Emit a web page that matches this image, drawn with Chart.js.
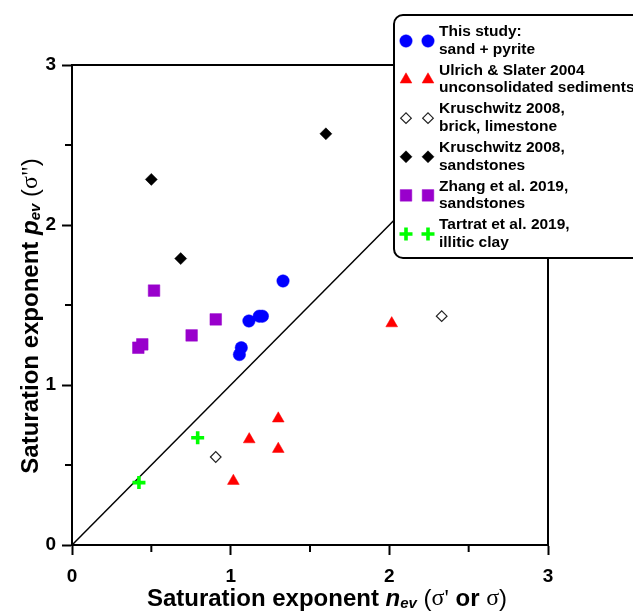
<!DOCTYPE html>
<html>
<head>
<meta charset="utf-8">
<script src="https://cdn.jsdelivr.net/npm/chart.js@4"></script>
<style>
    html, body { margin: 0; padding: 0; background: #fff; }
    #wrap { width: 633px; height: 614px; }
</style>
</head>
<body>
<div id="wrap"><canvas id="chart" width="633" height="614"></canvas></div>
<script>
(function () {
    "use strict";

    // Data: [n_ev, p_ev]
    const thisStudy = [[1.33, 1.65], [1.115, 1.40], [1.18, 1.43], [1.20, 1.43], [1.067, 1.233], [1.055, 1.19]];
    const ulrichSlater = [[1.30, 0.79], [1.117, 0.66], [1.30, 0.60], [1.017, 0.40], [2.015, 1.385]];
    const kruschwitzBrick = [[0.906, 0.55], [2.33, 1.43]];
    const kruschwitzSand = [[0.50, 2.285], [0.685, 1.79], [1.60, 2.57]];
    const zhang = [[0.517, 1.59], [0.906, 1.41], [0.754, 1.31], [0.443, 1.254], [0.418, 1.233]];
    const tartrat = [[0.792, 0.67], [0.422, 0.39]];
    const oneToOne = [[0, 0], [3, 3]];

    const legendLabels = [
        ["This study:", "sand + pyrite"],
        ["Ulrich & Slater 2004", "unconsolidated sediments"],
        ["Kruschwitz 2008,", "brick, limestone"],
        ["Kruschwitz 2008,", "sandstones"],
        ["Zhang et al. 2019,", "sandstones"],
        ["Tartrat et al. 2019,", "illitic clay"],
    ];
    const axisMin = 0;
    const axisMax = 3;
    const tickStep = 0.5;

    const toXY = (arr) => arr.map((p) => ({ x: p[0], y: p[1] }));

    const styles = [
        { pointStyle: "circle", radius: 6.2, backgroundColor: "#0000ff", borderColor: "#0000ff", borderWidth: 0.5 },
        { pointStyle: "triangle", radius: 6.8, backgroundColor: "#ff0000", borderColor: "#ff0000", borderWidth: 0.5 },
        { pointStyle: "rectRot", radius: 5.3, backgroundColor: "#ffffff", borderColor: "#222222", borderWidth: 1.2 },
        { pointStyle: "rectRot", radius: 6, backgroundColor: "#000000", borderColor: "#000000", borderWidth: 0.5 },
        { pointStyle: "rect", radius: 8.2, backgroundColor: "#9900cc", borderColor: "#9900cc", borderWidth: 0.5 },
        { pointStyle: "cross", radius: 6.5, backgroundColor: "#00ff00", borderColor: "#00ff00", borderWidth: 3.6 },
    ];
    const series = [thisStudy, ulrichSlater, kruschwitzBrick, kruschwitzSand, zhang, tartrat];

    const datasets = series.map((s, i) => ({
        label: legendLabels[i].join(" "),
        data: toXY(s),
        pointStyle: styles[i].pointStyle,
        pointRadius: styles[i].radius,
        pointHoverRadius: styles[i].radius,
        pointBackgroundColor: styles[i].backgroundColor,
        pointBorderColor: styles[i].borderColor,
        pointBorderWidth: styles[i].borderWidth,
        showLine: false,
    }));
    datasets.push({
        label: "1:1",
        data: toXY(oneToOne),
        showLine: true,
        borderColor: "#000",
        borderWidth: 1.5,
        pointRadius: 0,
        order: 10,
    });

    // draw a run of text pieces with different fonts, centred at (cx, cy)
    function drawRich(ctx, pieces, cx, cy) {
        let total = 0;
        pieces.forEach((p) => {
            ctx.font = p.font;
            p.w = ctx.measureText(p.text).width;
            total += p.w;
        });
        let x = cx - total / 2;
        ctx.textBaseline = "middle";
        ctx.textAlign = "left";
        ctx.fillStyle = "#000";
        pieces.forEach((p) => {
            ctx.font = p.font;
            ctx.fillText(p.text, x, cy + (p.dy || 0));
            x += p.w;
        });
    }

    const B = "bold 24px 'Liberation Sans', Arial, sans-serif";
    const BI = "italic bold 24px 'Liberation Sans', Arial, sans-serif";
    const SUB = "italic bold 15px 'Liberation Sans', Arial, sans-serif";
    const R = "24px 'Liberation Sans', Arial, sans-serif";
    const SIG = "24px 'Liberation Serif', 'Times New Roman', serif";

    const decorations = {
        id: "decorations",
        afterDraw(chart) {
            const ctx = chart.ctx;
            const a = chart.chartArea;
            const xs = chart.scales.x;
            const ys = chart.scales.y;
            ctx.save();

            // top and right frame
            ctx.strokeStyle = "#000";
            ctx.lineWidth = 2;
            ctx.beginPath();
            ctx.moveTo(a.left - 1, a.top);
            ctx.lineTo(a.right, a.top);
            ctx.lineTo(a.right, a.bottom + 1);
            ctx.stroke();

            // minor ticks (shorter than the major ones)
            ctx.lineWidth = 2;
            xs.ticks.filter((t) => !Number.isInteger(t.value)).forEach((t) => {
                const px = xs.getPixelForValue(t.value);
                ctx.beginPath();
                ctx.moveTo(px, a.bottom);
                ctx.lineTo(px, a.bottom + 7);
                ctx.stroke();
            });
            ys.ticks.filter((t) => !Number.isInteger(t.value)).forEach((t) => {
                const py = ys.getPixelForValue(t.value);
                ctx.beginPath();
                ctx.moveTo(a.left, py);
                ctx.lineTo(a.left - 7, py);
                ctx.stroke();
            });

            // axis titles
            drawRich(ctx, [
                { text: "Saturation exponent ", font: B },
                { text: "n", font: BI },
                { text: "ev", font: SUB, dy: 5 },
                { text: " (", font: R },
                { text: "\u03c3'", font: SIG },
                { text: " or ", font: B },
                { text: "\u03c3", font: SIG },
                { text: ")", font: R },
            ], 327, 599);

            ctx.save();
            ctx.translate(31, 316);
            ctx.rotate(-Math.PI / 2);
            drawRich(ctx, [
                { text: "Saturation exponent ", font: B },
                { text: "p", font: BI },
                { text: "ev", font: SUB, dy: 5 },
                { text: " (", font: R },
                { text: "\u03c3\"", font: SIG },
                { text: ")", font: R },
            ], 0, 0);
            ctx.restore();

            // legend box
            const lx = 394, ly = 15, lw = 260, lh = 243, r = 9;
            ctx.beginPath();
            ctx.moveTo(lx + r, ly);
            ctx.lineTo(lx + lw - r, ly);
            ctx.arcTo(lx + lw, ly, lx + lw, ly + r, r);
            ctx.lineTo(lx + lw, ly + lh - r);
            ctx.arcTo(lx + lw, ly + lh, lx + lw - r, ly + lh, r);
            ctx.lineTo(lx + r, ly + lh);
            ctx.arcTo(lx, ly + lh, lx, ly + lh - r, r);
            ctx.lineTo(lx, ly + r);
            ctx.arcTo(lx, ly, lx + r, ly, r);
            ctx.closePath();
            ctx.fillStyle = "#fff";
            ctx.fill();
            ctx.lineWidth = 2;
            ctx.strokeStyle = "#000";
            ctx.stroke();

            legendLabels.forEach((lines, i) => {
                const cy = 41 + i * 38.6;
                const st = styles[i];
                [406, 428].forEach((mx) => {
                    ctx.fillStyle = st.backgroundColor;
                    ctx.strokeStyle = st.borderColor;
                    ctx.lineWidth = st.borderWidth;
                    Chart.helpers.drawPoint(ctx, {
                        pointStyle: st.pointStyle,
                        radius: st.radius,
                        borderWidth: st.borderWidth,
                        rotation: 0,
                    }, mx, cy);
                });
                ctx.fillStyle = "#000";
                ctx.font = "bold 15.5px 'Liberation Sans', Arial, sans-serif";
                ctx.textAlign = "left";
                ctx.textBaseline = "middle";
                ctx.fillText(lines[0], 439, cy - 9);
                ctx.fillText(lines[1], 439, cy + 8.5);
            });
            ctx.restore();
        },
    };

    const tickFont = { family: "'Liberation Sans', Arial, sans-serif", size: 19, weight: "bold" };

    new Chart(document.getElementById("chart").getContext("2d"), {
        type: "scatter",
        data: { datasets: datasets },
        options: {
            responsive: false,
            animation: false,
            layout: { padding: { top: 65, right: 85, left: 0, bottom: 0 } },
            plugins: {
                legend: { display: false },
                tooltip: { enabled: false },
            },
            scales: {
                x: {
                    min: axisMin,
                    max: axisMax,
                    afterFit: (scale) => { scale.height = 69; },
                    ticks: {
                        stepSize: tickStep,
                        autoSkip: false,
                        maxRotation: 0,
                        padding: 10,
                        color: "#000",
                        font: tickFont,
                        callback: (v) => (Number.isInteger(v) ? v : ""),
                    },
                    grid: {
                        drawOnChartArea: false,
                        tickLength: 10,
                        tickWidth: 2,
                        tickColor: (c) => (c.tick && Number.isInteger(c.tick.value) ? "#000" : "rgba(0,0,0,0)"),
                    },
                    border: { display: true, color: "#000", width: 2 },
                },
                y: {
                    min: axisMin,
                    max: axisMax,
                    afterFit: (scale) => { scale.width = 72; },
                    ticks: {
                        stepSize: tickStep,
                        autoSkip: false,
                        padding: 6,
                        color: "#000",
                        font: tickFont,
                        callback: (v) => (Number.isInteger(v) ? v : ""),
                    },
                    grid: {
                        drawOnChartArea: false,
                        tickLength: 10,
                        tickWidth: 2,
                        tickColor: (c) => (c.tick && Number.isInteger(c.tick.value) ? "#000" : "rgba(0,0,0,0)"),
                    },
                    border: { display: true, color: "#000", width: 2 },
                },
            },
        },
        plugins: [decorations],
    });
})();
</script>
</body>
</html>
